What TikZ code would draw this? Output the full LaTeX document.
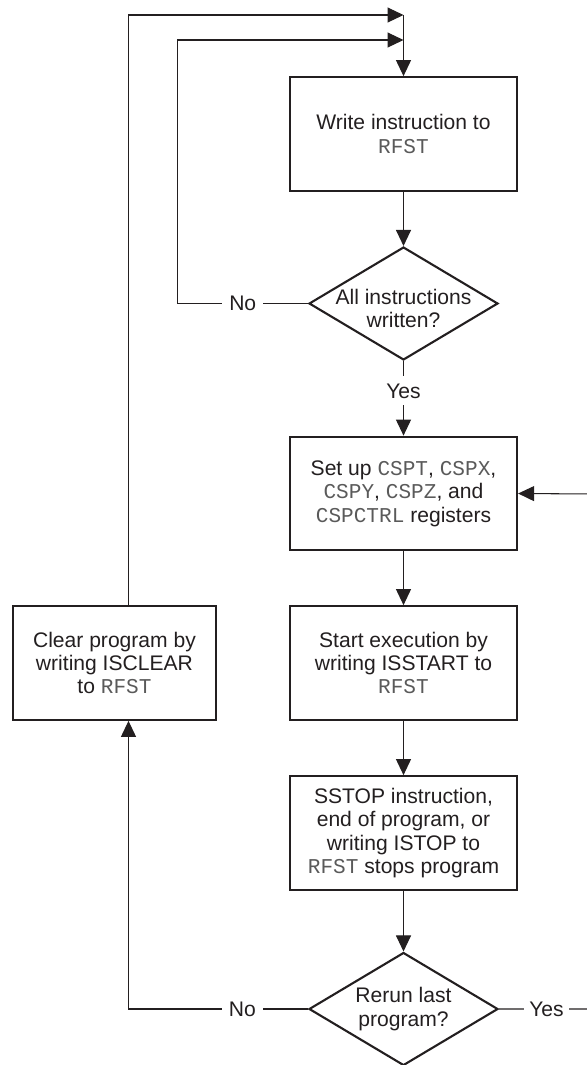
\documentclass[tikz,border=0pt]{standalone}
\usepackage{fontspec}
\setmainfont{Liberation Sans}
\setmonofont{Liberation Mono}
\usepackage{tikz}
\usetikzlibrary{positioning,shapes.geometric,arrows.meta}
\definecolor{ink}{HTML}{231F20}
\definecolor{codeink}{HTML}{5A5A5A}
\newcommand{\regname}[1]{{\ttfamily\color{codeink}#1}}
\tikzset{
  % --- process boxes and decisions ---
  procbox/.style={draw=ink, line width=1.3pt, align=center, text=ink,
                  minimum width=4.54cm, minimum height=2.27cm, inner sep=3pt},
  decision/.style={diamond, draw=ink, line width=1.2pt, inner sep=0pt,
                   minimum width=3.78cm, minimum height=2.26cm},
  dtext/.style={align=center, text=ink},
  % --- connectors and their labels ---
  flow/.style={draw=ink, line width=0.6pt, -{Triangle[length=3.2mm,width=3mm]}},
  lbl/.style={fill=white, text=ink, inner sep=4pt},
}

\begin{document}
\begin{tikzpicture}[x=0.02cm, y=-0.02cm, font=\fontsize{12pt}{13.3pt}\selectfont]
  \useasboundingbox (0,0) rectangle (587,1065);

  % main column
  \node[procbox] (write) at (403.5,134) {Write instruction to\\\regname{RFST}};
  \node[decision, label={[dtext, yshift=-3pt]center:{All instructions\\written?}}] (q1) at (403.5,303.5) {};
  \node[procbox] (setup) at (403.5,493.5) {Set up \regname{CSPT}, \regname{CSPX},\\
        \regname{CSPY}, \regname{CSPZ}, and\\\regname{CSPCTRL} registers};
  \node[procbox] (start) at (403.5,663) {Start execution by\\writing ISSTART to\\\regname{RFST}};
  \node[procbox] (stop)  at (403.5,833) {SSTOP instruction,\\end of program, or\\
        writing ISTOP to\\\regname{RFST} stops program};
  \node[decision, label={[dtext]center:{Rerun last\\program?}}] (q2) at (403.5,1009) {};
  % side box
  \node[procbox, minimum width=4.06cm] (clear) at (114.5,663) {Clear program by\\writing ISCLEAR\\to \regname{RFST}};

  % loop corners
  \coordinate (outer) at (128.5,15);
  \coordinate (inner) at (177.5,40);
  \coordinate (top1)  at (403.5,15);
  \coordinate (top2)  at (403.5,40);
  \coordinate (back)  at (594,494);

  \draw[flow] (top1) -- (write);
  \draw[flow] (write) -- (q1);
  \draw[flow] (q1) -- node[lbl, pos=0.4]{Yes} (setup);
  \draw[flow] (setup) -- (start);
  \draw[flow] (start) -- (stop);
  \draw[flow] (stop) -- (q2);

  % "No" from the first decision goes back to the top
  \draw[flow] (q1.west) -- node[lbl]{No} (q1.west -| inner) -- (inner) -- (top2);
  % "No" from the second decision clears the program
  \draw[flow] (q2.west) -- node[lbl, pos=0.365]{No} (q2.west -| outer) -- (clear.south -| outer);
  \draw[flow] (clear.north -| outer) -- (outer) -- (top1);
  % "Yes" runs round the right edge back to the set-up box
  \draw[flow] (q2.east) -- node[lbl, inner sep=3pt]{Yes} (q2.east -| back) -- (back) -- (setup.east);
\end{tikzpicture}
\end{document}
